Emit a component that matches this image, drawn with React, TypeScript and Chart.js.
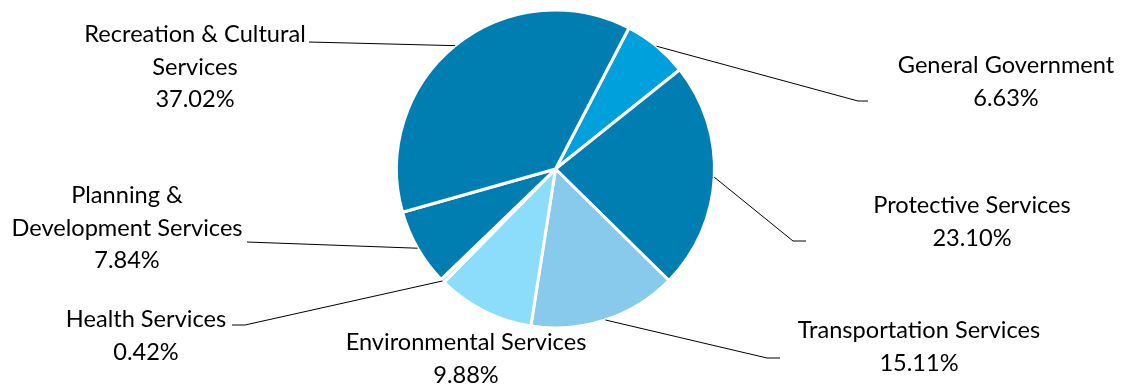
import React, { useEffect, useRef } from "react";
import { Chart, registerables } from "chart.js";

Chart.register(...registerables);

const categories = [
  "General Government",
  "Protective Services",
  "Transportation Services",
  "Environmental Services",
  "Health Services",
  "Planning & Development Services",
  "Recreation & Cultural Services",
];
const shares = [6.63, 23.1, 15.11, 9.88, 0.42, 7.84, 37.02];
const sliceColors = ["#00A0DC", "#007EB1", "#87CAEC", "#8CDCFB", "#A6E3FB", "#007EB1", "#007EB1"];

// label placement: words on first line, text centre x, first baseline, text-side line end, elbow
const labelLayout = [
  { words: 2, cx: 1006, y: 73, end: [868, 101], elbow: [858, 101] },
  { words: 2, cx: 972, y: 213, end: [806, 241], elbow: [793, 241] },
  { words: 2, cx: 919, y: 338, end: [780, 358], elbow: [767, 358] },
  { words: 2, cx: 466, y: 350, end: null, elbow: null },
  { words: 2, cx: 146, y: 327, end: [232, 325], elbow: [245, 325] },
  { words: 2, cx: 127, y: 203, end: [247, 242], elbow: null },
  { words: 3, cx: 195, y: 42, end: [309, 42], elbow: null },
];

const FONT = "23.6px Lato";
const LINE_H = 32.5;

const labelPlugin = {
  id: "pieLabels",
  afterDraw(chart: any) {
    const ctx = chart.ctx;
    const meta = chart.getDatasetMeta(0);
    ctx.save();
    ctx.font = FONT;
    ctx.fillStyle = "#000";
    ctx.textAlign = "center";
    ctx.textBaseline = "alphabetic";
    meta.data.forEach((arc: any, i: number) => {
      const lay = labelLayout[i];
      const words = categories[i].split(" ");
      const lines: string[] = [];
      lines.push(words.slice(0, lay.words).join(" "));
      if (words.length > lay.words) lines.push(words.slice(lay.words).join(" "));
      lines.push(shares[i].toFixed(2) + "%");
      lines.forEach((t, k) => ctx.fillText(t, lay.cx, lay.y + k * LINE_H));
      if (lay.end) {
        const p = arc.getProps(["x", "y", "startAngle", "endAngle", "outerRadius"], true);
        const mid = (p.startAngle + p.endAngle) / 2;
        const px = p.x + Math.cos(mid) * p.outerRadius;
        const py = p.y + Math.sin(mid) * p.outerRadius;
        ctx.beginPath();
        ctx.strokeStyle = "#000";
        ctx.lineWidth = 1;
        ctx.moveTo(px, py);
        if (lay.elbow) ctx.lineTo(lay.elbow[0], lay.elbow[1]);
        ctx.lineTo(lay.end[0], lay.end[1]);
        ctx.stroke();
      }
    });
    ctx.restore();
  },
};

export default function App() {
  const ref = useRef<HTMLCanvasElement>(null);
  useEffect(() => {
    if (!ref.current) return;
    const chart = new Chart(ref.current, {
      type: "pie",
      data: {
        labels: categories,
        datasets: [
          {
            data: shares,
            backgroundColor: sliceColors,
            borderColor: "#ffffff",
            borderWidth: 3,
          },
        ],
      },
      options: {
        animation: false,
        responsive: false,
        rotation: 27.5,
        radius: 159,
        layout: { padding: { left: 0, right: 19, top: 0, bottom: 46 } },
        plugins: { legend: { display: false }, tooltip: { enabled: false } },
      },
      plugins: [labelPlugin],
    });
    return () => chart.destroy();
  }, []);
  return (
    <div style={{ position: "fixed", left: 0, top: 0, width: 1130, height: 384, background: "#fff" }}>
      <canvas ref={ref} width={1130} height={384} />
    </div>
  );
}
